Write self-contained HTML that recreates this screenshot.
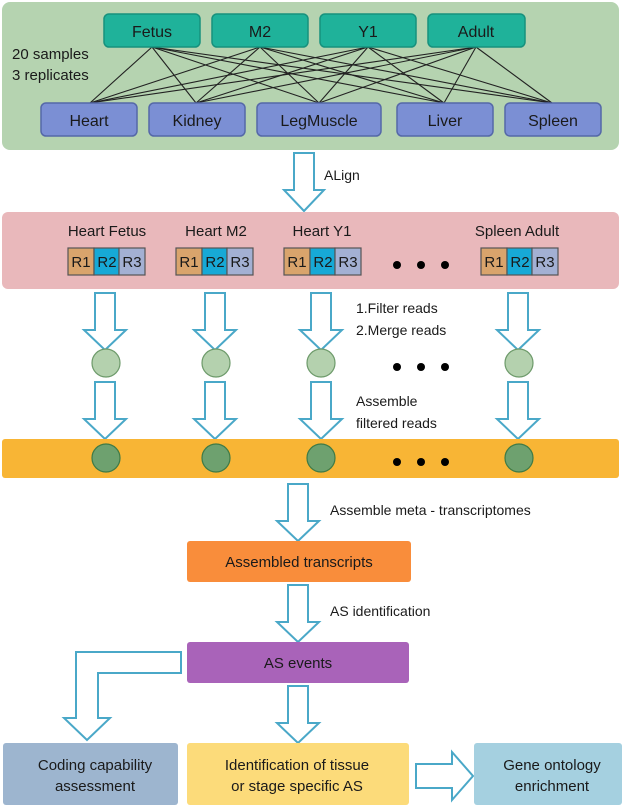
<!DOCTYPE html>
<html><head><meta charset="utf-8"><style>
html,body{margin:0;padding:0;background:#fff}
svg{display:block}
svg text{font-family:"Liberation Sans",Arial,Helvetica,sans-serif;fill:#1a1a1a}
</style></head><body>
<svg width="625" height="808" viewBox="0 0 625 808" xmlns="http://www.w3.org/2000/svg" font-family="Liberation Sans, Arial, sans-serif">
<defs>
<g id="da"><path d="M-10,0 H10 V37 H21 L0,57 L-21,37 H-10 Z" fill="#fff" stroke="#4aa8c8" stroke-width="2"/></g>
</defs>
<rect x="2" y="2" width="617" height="148" rx="8" fill="#b5d3b0"/>
<g stroke="#222" stroke-width="1.1">
<line x1="152" y1="47" x2="90" y2="103"/><line x1="152" y1="47" x2="196" y2="103"/><line x1="152" y1="47" x2="319" y2="103"/><line x1="152" y1="47" x2="444" y2="103"/><line x1="152" y1="47" x2="552" y2="103"/>
<line x1="260" y1="47" x2="90" y2="103"/><line x1="260" y1="47" x2="196" y2="103"/><line x1="260" y1="47" x2="319" y2="103"/><line x1="260" y1="47" x2="444" y2="103"/><line x1="260" y1="47" x2="552" y2="103"/>
<line x1="368" y1="47" x2="90" y2="103"/><line x1="368" y1="47" x2="196" y2="103"/><line x1="368" y1="47" x2="319" y2="103"/><line x1="368" y1="47" x2="444" y2="103"/><line x1="368" y1="47" x2="552" y2="103"/>
<line x1="476" y1="47" x2="90" y2="103"/><line x1="476" y1="47" x2="196" y2="103"/><line x1="476" y1="47" x2="319" y2="103"/><line x1="476" y1="47" x2="444" y2="103"/><line x1="476" y1="47" x2="552" y2="103"/>
</g>
<g fill="#1fb29a" stroke="#17917d" stroke-width="1.5">
<rect x="104" y="14" width="96" height="33" rx="5"/><rect x="212" y="14" width="96" height="33" rx="5"/><rect x="320" y="14" width="96" height="33" rx="5"/><rect x="428" y="14" width="97" height="33" rx="5"/>
</g>
<g font-size="16" text-anchor="middle">
<text x="152" y="37">Fetus</text><text x="260" y="37">M2</text><text x="368" y="37">Y1</text><text x="476" y="37">Adult</text>
</g>
<g fill="#7b8fd4" stroke="#5568a8" stroke-width="1.5">
<rect x="41" y="103" width="96" height="33" rx="5"/><rect x="149" y="103" width="96" height="33" rx="5"/><rect x="257" y="103" width="124" height="33" rx="5"/><rect x="397" y="103" width="96" height="33" rx="5"/><rect x="505" y="103" width="96" height="33" rx="5"/>
</g>
<g font-size="16" text-anchor="middle">
<text x="89" y="126">Heart</text><text x="197" y="126">Kidney</text><text x="319" y="126">LegMuscle</text><text x="445" y="126">Liver</text><text x="553" y="126">Spleen</text>
</g>
<text x="12" y="59" font-size="15">20 samples</text>
<text x="12" y="80" font-size="15">3 replicates</text>
<path d="M294,153 H314 V190 H324 L304,211 L284,190 H294 Z" fill="#fff" stroke="#4aa8c8" stroke-width="2"/>
<text x="324" y="180" font-size="14">ALign</text>
<rect x="2" y="212" width="617" height="77" rx="6" fill="#e9b8bb"/>
<g font-size="15" text-anchor="middle">
<text x="107" y="236">Heart Fetus</text><text x="216" y="236">Heart M2</text><text x="322" y="236">Heart Y1</text><text x="517" y="236">Spleen Adult</text>
</g>
<g stroke="#555" stroke-width="1.2">
<g transform="translate(68,248)"><rect width="26" height="27" fill="#d9a46c"/><rect x="26" width="25" height="27" fill="#17a9d6"/><rect x="51" width="26" height="27" fill="#a3b0d3"/></g>
<g transform="translate(176,248)"><rect width="26" height="27" fill="#d9a46c"/><rect x="26" width="25" height="27" fill="#17a9d6"/><rect x="51" width="26" height="27" fill="#a3b0d3"/></g>
<g transform="translate(284,248)"><rect width="26" height="27" fill="#d9a46c"/><rect x="26" width="25" height="27" fill="#17a9d6"/><rect x="51" width="26" height="27" fill="#a3b0d3"/></g>
<g transform="translate(481,248)"><rect width="26" height="27" fill="#d9a46c"/><rect x="26" width="25" height="27" fill="#17a9d6"/><rect x="51" width="26" height="27" fill="#a3b0d3"/></g>
</g>
<g font-size="15" text-anchor="middle">
<text x="81" y="267">R1</text><text x="107" y="267">R2</text><text x="132" y="267">R3</text>
<text x="189" y="267">R1</text><text x="215" y="267">R2</text><text x="240" y="267">R3</text>
<text x="297" y="267">R1</text><text x="323" y="267">R2</text><text x="348" y="267">R3</text>
<text x="494" y="267">R1</text><text x="520" y="267">R2</text><text x="545" y="267">R3</text>
</g>
<g fill="#000"><circle cx="397" cy="265" r="4"/><circle cx="421" cy="265" r="4"/><circle cx="445" cy="265" r="4"/></g>
<use href="#da" x="105" y="293"/><use href="#da" x="215" y="293"/><use href="#da" x="321" y="293"/><use href="#da" x="518" y="293"/>
<g fill="#b4d1ae" stroke="#6d9a6a" stroke-width="1.2">
<ellipse cx="106" cy="363" rx="14" ry="14"/><ellipse cx="216" cy="363" rx="14" ry="14"/><ellipse cx="321" cy="363" rx="14" ry="14"/><ellipse cx="519" cy="363" rx="14" ry="14"/>
</g>
<g fill="#000"><circle cx="397" cy="367" r="4"/><circle cx="421" cy="367" r="4"/><circle cx="445" cy="367" r="4"/></g>
<text x="356" y="313" font-size="14">1.Filter reads</text>
<text x="356" y="335" font-size="14">2.Merge reads</text>
<use href="#da" x="105" y="382"/><use href="#da" x="215" y="382"/><use href="#da" x="321" y="382"/><use href="#da" x="518" y="382"/>
<text x="356" y="406" font-size="14">Assemble</text>
<text x="356" y="428" font-size="14">filtered reads</text>
<rect x="2" y="439" width="617" height="39" rx="3" fill="#f8b535"/>
<g fill="#6ea16f" stroke="#3e7a46" stroke-width="1.2">
<ellipse cx="106" cy="458" rx="14" ry="14"/><ellipse cx="216" cy="458" rx="14" ry="14"/><ellipse cx="321" cy="458" rx="14" ry="14"/><ellipse cx="519" cy="458" rx="14" ry="14"/>
</g>
<g fill="#000"><circle cx="397" cy="462" r="4"/><circle cx="421" cy="462" r="4"/><circle cx="445" cy="462" r="4"/></g>
<use href="#da" x="298" y="484"/>
<text x="330" y="515" font-size="14">Assemble meta - transcriptomes</text>
<rect x="187" y="541" width="224" height="41" rx="3" fill="#f98d3b"/>
<text x="299" y="567" font-size="15" text-anchor="middle">Assembled transcripts</text>
<use href="#da" x="298" y="585"/>
<text x="330" y="616" font-size="14">AS identification</text>
<rect x="187" y="642" width="222" height="41" rx="3" fill="#a963b9"/>
<text x="298" y="668" font-size="15" text-anchor="middle">AS events</text>
<path d="M181,652 V673 H98 V718 H110 L87,740 L64,718 H76 V652 Z" fill="#fff" stroke="#4aa8c8" stroke-width="2"/>
<use href="#da" x="298" y="686"/>
<rect x="3" y="743" width="175" height="62" rx="3" fill="#9db5cf"/>
<text x="95" y="770" font-size="15" text-anchor="middle">Coding capability</text>
<text x="95" y="791" font-size="15" text-anchor="middle">assessment</text>
<rect x="187" y="743" width="222" height="62" rx="3" fill="#fcdb7a"/>
<text x="297" y="770" font-size="15" text-anchor="middle">Identification of tissue</text>
<text x="297" y="791" font-size="15" text-anchor="middle">or stage specific AS</text>
<path d="M416,764 H452 V752 L473,776 L452,800 V788 H416 Z" fill="#fff" stroke="#4aa8c8" stroke-width="2"/>
<rect x="474" y="743" width="148" height="62" rx="3" fill="#a5d0e0"/>
<text x="552" y="770" font-size="15" text-anchor="middle">Gene ontology</text>
<text x="552" y="791" font-size="15" text-anchor="middle">enrichment</text>
</svg>
</body></html>
